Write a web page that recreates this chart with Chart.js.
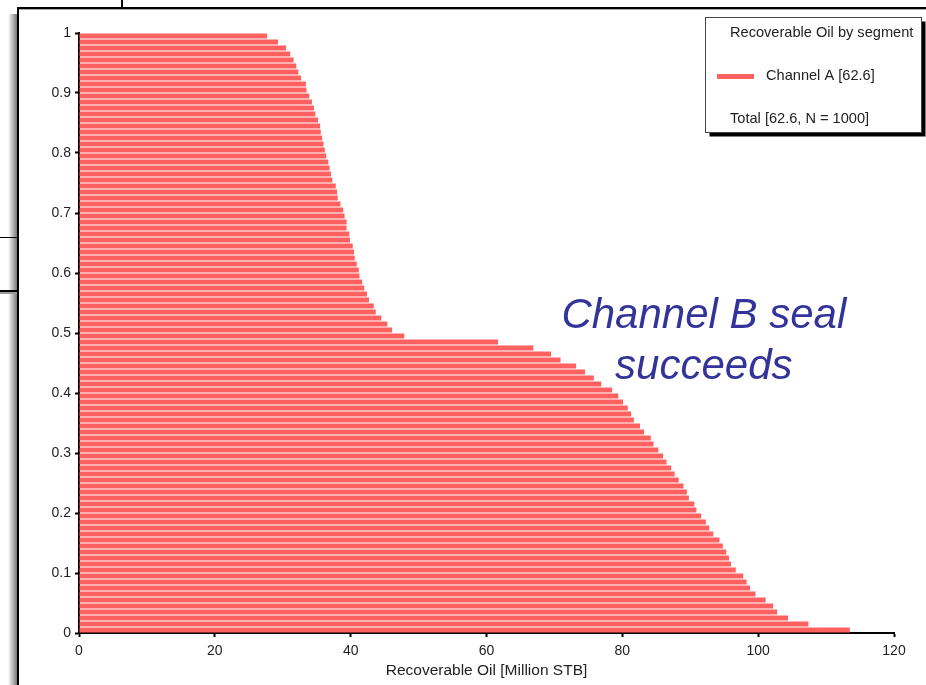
<!DOCTYPE html>
<html><head><meta charset="utf-8">
<script src="https://cdn.jsdelivr.net/npm/chart.js@4.4.1/dist/chart.umd.min.js"></script>
<style>html,body{margin:0;padding:0;background:#fff;overflow:hidden}canvas{display:block}</style>
</head><body>
<div style="width:926px;height:685px;position:relative"><canvas id="c" width="926" height="685"></canvas></div>
<script>
// Cumulative probability level (centre of each horizontal bar), top to bottom
const probabilityLevels = [
  0.995, 0.985, 0.975, 0.965, 0.955, 0.945, 0.935, 0.925, 0.915, 0.905,
  0.895, 0.885, 0.875, 0.865, 0.855, 0.845, 0.835, 0.825, 0.815, 0.805,
  0.795, 0.785, 0.775, 0.765, 0.755, 0.745, 0.735, 0.725, 0.715, 0.705,
  0.695, 0.685, 0.675, 0.665, 0.655, 0.645, 0.635, 0.625, 0.615, 0.605,
  0.595, 0.585, 0.575, 0.565, 0.555, 0.545, 0.535, 0.525, 0.515, 0.505,
  0.495, 0.485, 0.475, 0.465, 0.455, 0.445, 0.435, 0.425, 0.415, 0.405,
  0.395, 0.385, 0.375, 0.365, 0.355, 0.345, 0.335, 0.325, 0.315, 0.305,
  0.295, 0.285, 0.275, 0.265, 0.255, 0.245, 0.235, 0.225, 0.215, 0.205,
  0.195, 0.185, 0.175, 0.165, 0.155, 0.145, 0.135, 0.125, 0.115, 0.105,
  0.095, 0.085, 0.075, 0.065, 0.055, 0.045, 0.035, 0.025, 0.015, 0.005
];
// Recoverable oil (Million STB), Channel A
const recoverableOil = [
  27.7, 29.3, 30.5, 31.1, 31.6, 32.0, 32.3, 32.7, 33.4, 33.5,
  33.9, 34.3, 34.6, 34.8, 35.2, 35.5, 35.6, 35.8, 36.0, 36.2,
  36.4, 36.7, 36.9, 37.1, 37.3, 37.8, 38.0, 38.1, 38.5, 38.9,
  39.1, 39.4, 39.4, 39.8, 39.9, 40.3, 40.5, 40.6, 40.9, 41.2,
  41.3, 41.7, 42.0, 42.4, 42.7, 43.4, 43.7, 44.5, 45.4, 46.1,
  47.9, 61.7, 66.9, 69.5, 70.9, 73.2, 74.5, 75.8, 76.9, 78.5,
  79.4, 80.1, 80.8, 81.3, 81.7, 82.6, 83.2, 84.2, 84.6, 85.3,
  86.0, 86.5, 87.2, 87.7, 88.3, 89.0, 89.5, 89.8, 90.6, 90.9,
  91.6, 92.3, 92.8, 93.4, 94.3, 94.8, 95.3, 95.7, 96.0, 96.7,
  97.8, 98.3, 98.8, 99.6, 101.1, 102.2, 102.8, 104.4, 107.4, 113.5
];
const yTickLabels = ['0', '0.1', '0.2', '0.3', '0.4', '0.5', '0.6', '0.7', '0.8', '0.9', '1'];
const xTickLabels = ['0', '20', '40', '60', '80', '100', '120'];
const xAxisTitle = 'Recoverable Oil [Million STB]';
const legendTitle = 'Recoverable Oil by segment';
const seriesName = 'Channel A [62.6]';
const totalLabel = 'Total [62.6, N = 1000]';
const annotationLines = ['Channel B seal', 'succeeds'];

const BAR_COLOR = 'rgb(255,96,96)';
const FONT = '"Liberation Sans", Arial, sans-serif';

const framePlugin = {
  id: 'frame',
  beforeDraw(chart) {
    const ctx = chart.ctx;
    ctx.save();
    ctx.fillStyle = '#fff';
    ctx.fillRect(0, 0, chart.width, chart.height);
    // shadow of window left edge
    const g = ctx.createLinearGradient(8, 0, 17, 0);
    g.addColorStop(0, 'rgba(255,255,255,1)');
    g.addColorStop(1, 'rgba(120,120,120,1)');
    ctx.fillStyle = g;
    ctx.fillRect(8, 14, 9, chart.height - 14);
    // behind-window lines
    ctx.fillStyle = '#000';
    ctx.fillRect(121, 0, 2, 8);
    ctx.fillRect(0, 237, 17, 1);
    ctx.fillRect(0, 290, 17, 2);
    ctx.fillStyle = '#999';
    ctx.fillRect(0, 292, 17, 2);
    // window border
    ctx.fillStyle = '#000';
    ctx.fillRect(17, 7, chart.width - 17, 2);
    ctx.fillRect(17, 7, 2, chart.height - 7);
    ctx.fillStyle = '#aaa';
    ctx.fillRect(19, 9, chart.width - 19, 1);
    ctx.restore();
  },
  afterDraw(chart) {
    const ctx = chart.ctx;
    const xs = chart.scales.x, ys = chart.scales.y;
    ctx.save();
    // Legend box with drop shadow
    const lx = 705.5, ly = 17.5, lw = 216, lh = 115;
    ctx.fillStyle = '#000';
    ctx.fillRect(lx + 4, ly + 4, lw, lh);
    ctx.fillStyle = '#fff';
    ctx.fillRect(lx, ly, lw, lh);
    ctx.strokeStyle = '#444';
    ctx.lineWidth = 1;
    ctx.strokeRect(lx, ly, lw, lh);
    ctx.font = '14.6px ' + FONT;
    ctx.fillStyle = '#222';
    ctx.textBaseline = 'middle';
    ctx.textAlign = 'left';
    ctx.fillText(legendTitle, 730, 33);
    ctx.fillText(seriesName, 766, 76);
    ctx.fillText(totalLabel, 730, 119);
    ctx.fillStyle = BAR_COLOR;
    ctx.fillRect(717, 74, 37, 5);
    // Annotation
    ctx.fillStyle = 'rgb(51,51,153)';
    ctx.font = 'italic 42px ' + FONT;
    ctx.textAlign = 'center';
    ctx.textBaseline = 'alphabetic';
    const cx = xs.getPixelForValue(92.0);
    ctx.fillText(annotationLines[0], cx, ys.getPixelForValue(0.508));
    ctx.fillText(annotationLines[1], cx, ys.getPixelForValue(0.423));
    ctx.restore();
  }
};

new Chart(document.getElementById('c'), {
  type: 'bar',
  data: {
    datasets: [{
      label: seriesName,
      data: probabilityLevels.map((p, i) => ({ x: recoverableOil[i], y: p })),
      backgroundColor: BAR_COLOR,
      borderWidth: 0,
      barPercentage: 1,
      categoryPercentage: 0.84
    }]
  },
  options: {
    indexAxis: 'y',
    responsive: false,
    animation: false,
    devicePixelRatio: 1,
    layout: { padding: { left: 0, top: 33, right: 32, bottom: 0 } },
    plugins: { legend: { display: false }, tooltip: { enabled: false } },
    scales: {
      y: {
        type: 'linear', min: 0, max: 1, offset: false,
        grid: { display: true, drawOnChartArea: false, drawTicks: true, tickLength: 4, tickColor: '#000', tickWidth: 2, offset: false },
        border: { display: true, color: '#000', width: 2 },
        ticks: {
          stepSize: 0.1, padding: 4, color: '#222', autoSkip: false,
          font: { family: FONT, size: 14 },
          callback: (v, i) => yTickLabels[i]
        },
        afterFit: (s) => { s.width = 79; }
      },
      x: {
        type: 'linear', min: 0, max: 120, offset: false,
        grid: { display: true, drawOnChartArea: false, drawTicks: true, tickLength: 4, tickColor: '#000', tickWidth: 2 },
        border: { display: true, color: '#000', width: 2 },
        ticks: {
          stepSize: 20, padding: 6, color: '#222', maxRotation: 0,
          font: { family: FONT, size: 14 },
          callback: (v, i) => xTickLabels[i]
        },
        title: { display: true, text: xAxisTitle, color: '#222', font: { family: FONT, size: 15.5 }, padding: { top: 0, bottom: 5 } },
        afterFit: (s) => { s.height = 52; }
      }
    }
  },
  plugins: [framePlugin]
});
</script>
</body></html>
